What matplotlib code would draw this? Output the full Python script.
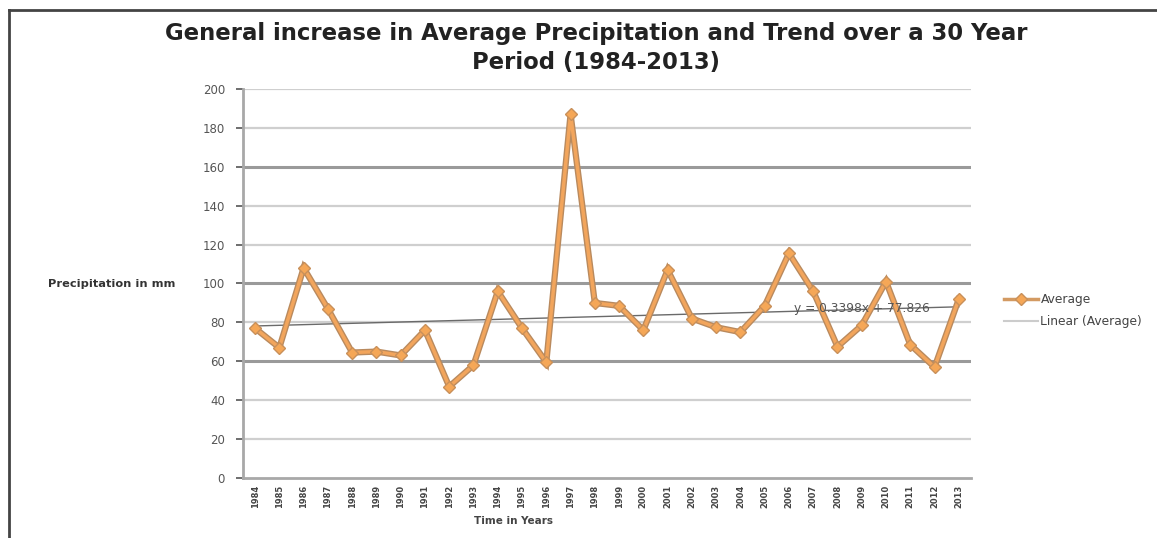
import numpy as np
import matplotlib.pyplot as plt
from matplotlib.lines import Line2D

# data
years = [str(y) for y in range(1984, 2014)]
average = [77, 67, 108, 87, 64.5, 65, 63, 76, 47, 58,
           96, 77, 59.5, 187, 90, 88.5, 76, 107, 82, 77.5,
           75, 88.5, 115.5, 96, 67.5, 78.5, 101, 68.5, 57, 92]
# trendline as printed on the chart
slope = 0.3398
intercept = 77.826
y_ticks = list(range(0, 201, 20))
dark_grid = [60, 100, 160]

plt.rcParams['font.family'] = ['DejaVu Sans']

fig = plt.figure(figsize=(11.57, 5.38), dpi=100)
ax = fig.add_axes([0.21, 0.1115, 0.6292, 0.7231])

x = np.arange(len(years))

# gridlines, some darker like the original
for v in y_ticks[1:]:
    col = '#9a9a9a' if v in dark_grid else '#cfcfcf'
    lw = 2.2 if v in dark_grid else 1.6
    ax.axhline(v, color=col, lw=lw, zorder=0)

# trend line
trend = slope * (x + 1) + intercept
ax.plot(x, trend, color='#6a6a6a', lw=1.0, zorder=2)

# average series: darker outline under orange line
ax.plot(x, average, color='#b98a5e', lw=4.5, zorder=3, solid_joinstyle='miter')
ax.plot(x, average, color='#f2a55c', lw=2.5, zorder=4, marker='D', markersize=6.5,
        markerfacecolor='#f5a757', markeredgecolor='#c8905a', markeredgewidth=1.0)

ax.text(22.2, 87, 'y = 0.3398x + 77.826', fontsize=8.8, color='#555555',
        va='center', ha='left', zorder=5)

ax.set_xlim(-0.5, len(years) - 0.5)
ax.set_ylim(0, 200)
ax.set_yticks(y_ticks)
ax.set_xticks(x)
ax.set_xticklabels(years, rotation=90, fontsize=6, color='#444444', fontweight='bold')
ax.tick_params(axis='y', labelsize=8.5, colors='#555555', length=5, width=1.2, pad=8)
ax.tick_params(axis='x', length=0, pad=5)
for s in ['top', 'right']:
    ax.spines[s].set_visible(False)
ax.spines['left'].set_color('#a8a8a8')
ax.spines['left'].set_linewidth(2)
ax.spines['bottom'].set_color('#a8a8a8')
ax.spines['bottom'].set_linewidth(2)

fig.text(514 / 1157, 1 - 521 / 538, 'Time in Years', fontsize=7.5, fontweight='bold',
         color='#444444', ha='center', va='center')
fig.text(48 / 1157, 1 - 284 / 538, 'Precipitation in mm', fontsize=8.2, fontweight='bold',
         color='#333333', ha='left', va='center')

fig.text(596 / 1157, 1 - 48 / 538,
         'General increase in Average Precipitation and Trend over a 30 Year\nPeriod (1984-2013)',
         fontsize=16.4, fontweight='bold', color='#222222', ha='center', va='center',
         linespacing=1.3)

handles = [Line2D([], [], color='#d39a62', lw=2.5, marker='D', markersize=6,
                  markerfacecolor='#f5a757', markeredgecolor='#c8905a'),
           Line2D([], [], color='#cccccc', lw=1.5)]
ax.legend(handles, ['Average', 'Linear (Average)'], loc='center left',
          bbox_to_anchor=(1.03, 0.43), frameon=False, fontsize=8.8,
          labelcolor='#444444', handlelength=2.8, handletextpad=0.2, labelspacing=0.7)

# outer frame lines (top and left)
fig.add_artist(Line2D([9 / 1157, 1], [1 - 10 / 538, 1 - 10 / 538], color='#444444', lw=2))
fig.add_artist(Line2D([9 / 1157, 9 / 1157], [0, 1 - 10 / 538], color='#444444', lw=2))

fig.savefig('out.png', dpi=100)
